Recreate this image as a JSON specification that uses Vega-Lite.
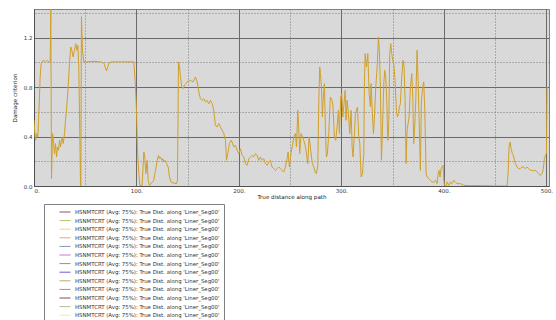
{
  "$schema": "https://vega.github.io/schema/vega-lite/v6.json",
  "width": 515,
  "height": 177,
  "autosize": "none",
  "padding": {"left": 34, "top": 9, "right": 7, "bottom": 134},
  "background": "#ffffff",
  "config": {
    "font": "DejaVu Sans",
    "view": {"fill": "#d9d9d9", "stroke": "#808080", "strokeWidth": 1},
    "axis": {
      "labelFontSize": 5.5,
      "labelColor": "#333333",
      "titleFontSize": 5.6,
      "titleFontWeight": "normal",
      "titleColor": "#222222",
      "ticks": false,
      "domainColor": "#505050",
      "gridOpacity": 1,
      "gridWidth": 1
    }
  },
  "resolve": {"axis": {"y": "independent"}},
  "datasets": {
    "curve": [
      {"x":0,"y":0.531},{"x":0.8,"y":0.424},{"x":1.5,"y":0.370},{"x":2.4,"y":0.424},{"x":3.7,"y":0.397},{"x":5.0,"y":0.639},{"x":6.0,"y":0.882},{"x":7.0,"y":0.990},{"x":9.0,"y":1.017},{"x":11.2,"y":1.004},{"x":12.9,"y":1.017},{"x":14.5,"y":1.004},{"x":15.8,"y":1.004},{"x":16.4,"y":1.43},{"x":17.1,"y":0.060},{"x":18.1,"y":0.424},{"x":19.0,"y":0.370},{"x":20.0,"y":0.262},{"x":21.0,"y":0.343},{"x":22.0,"y":0.235},{"x":22.9,"y":0.316},{"x":23.9,"y":0.289},{"x":24.9,"y":0.370},{"x":25.9,"y":0.316},{"x":27.2,"y":0.397},{"x":28.5,"y":0.343},{"x":29.8,"y":0.424},{"x":30.7,"y":0.531},{"x":32.0,"y":0.639},{"x":33.3,"y":0.801},{"x":34.6,"y":0.990},{"x":35.9,"y":1.125},{"x":36.9,"y":1.098},{"x":38.2,"y":1.044},{"x":39.5,"y":1.098},{"x":40.8,"y":1.152},{"x":41.8,"y":1.098},{"x":42.8,"y":1.138},{"x":43.7,"y":0.963},{"x":44.7,"y":0.424},{"x":45.4,"y":0.0},{"x":45.7,"y":0.0},{"x":46.3,"y":1.37},{"x":47.3,"y":1.098},{"x":48.6,"y":1.004},{"x":51.9,"y":1.004},{"x":58.4,"y":1.009},{"x":64.9,"y":1.004},{"x":68.1,"y":0.995},{"x":69.4,"y":0.963},{"x":70.7,"y":0.931},{"x":72.0,"y":0.963},{"x":73.3,"y":0.995},{"x":75.3,"y":1.004},{"x":81.1,"y":1.004},{"x":90.9,"y":1.004},{"x":97.4,"y":1.004},{"x":98.7,"y":0.855},{"x":100.0,"y":0.612},{"x":101.0,"y":0.289},{"x":102.3,"y":0.100},{"x":103.3,"y":0.005},{"x":105.5,"y":0.005},{"x":107.2,"y":0.275},{"x":108.1,"y":0.235},{"x":109.1,"y":0.100},{"x":110.4,"y":0.208},{"x":111.4,"y":0.046},{"x":112.7,"y":0.005},{"x":114.6,"y":0.024},{"x":116.9,"y":0.046},{"x":117.9,"y":0.100},{"x":119.2,"y":0.154},{"x":120.2,"y":0.208},{"x":121.5,"y":0.248},{"x":122.4,"y":0.221},{"x":123.4,"y":0.235},{"x":124.7,"y":0.208},{"x":125.7,"y":0.221},{"x":126.7,"y":0.194},{"x":128.0,"y":0.208},{"x":129.3,"y":0.181},{"x":130.9,"y":0.154},{"x":132.2,"y":0.073},{"x":133.8,"y":0.032},{"x":136.4,"y":0.024},{"x":139.0,"y":0.019},{"x":140.0,"y":0.046},{"x":141.0,"y":1.004},{"x":142.0,"y":0.963},{"x":142.9,"y":0.882},{"x":144.2,"y":0.801},{"x":145.5,"y":0.788},{"x":146.8,"y":0.815},{"x":148.1,"y":0.828},{"x":149.4,"y":0.842},{"x":152.7,"y":0.855},{"x":155.3,"y":0.842},{"x":157.5,"y":0.882},{"x":159.2,"y":0.842},{"x":160.8,"y":0.761},{"x":162.4,"y":0.707},{"x":164.0,"y":0.693},{"x":165.7,"y":0.707},{"x":167.3,"y":0.680},{"x":168.9,"y":0.693},{"x":170.5,"y":0.666},{"x":172.2,"y":0.693},{"x":173.8,"y":0.666},{"x":175.4,"y":0.612},{"x":177.0,"y":0.491},{"x":178.7,"y":0.478},{"x":180.3,"y":0.505},{"x":181.9,"y":0.478},{"x":183.6,"y":0.451},{"x":185.2,"y":0.424},{"x":186.8,"y":0.370},{"x":187.8,"y":0.208},{"x":189.1,"y":0.262},{"x":190.7,"y":0.343},{"x":192.3,"y":0.370},{"x":193.3,"y":0.356},{"x":194.9,"y":0.316},{"x":196.6,"y":0.329},{"x":198.2,"y":0.289},{"x":199.8,"y":0.262},{"x":201.4,"y":0.302},{"x":203.1,"y":0.248},{"x":204.7,"y":0.235},{"x":206.3,"y":0.181},{"x":207.9,"y":0.167},{"x":209.6,"y":0.221},{"x":211.2,"y":0.235},{"x":212.8,"y":0.248},{"x":214.4,"y":0.235},{"x":216.1,"y":0.262},{"x":217.7,"y":0.248},{"x":219.3,"y":0.208},{"x":221.0,"y":0.235},{"x":222.6,"y":0.208},{"x":224.2,"y":0.221},{"x":225.8,"y":0.181},{"x":227.5,"y":0.167},{"x":229.1,"y":0.194},{"x":230.7,"y":0.208},{"x":232.3,"y":0.154},{"x":234.0,"y":0.140},{"x":235.6,"y":0.127},{"x":237.2,"y":0.140},{"x":238.8,"y":0.154},{"x":240.5,"y":0.140},{"x":242.1,"y":0.127},{"x":243.7,"y":0.113},{"x":245.3,"y":0.154},{"x":247.0,"y":0.221},{"x":247.9,"y":0.275},{"x":249.2,"y":0.154},{"x":250.9,"y":0.275},{"x":252.2,"y":0.329},{"x":253.5,"y":0.397},{"x":255.1,"y":0.424},{"x":256.1,"y":0.316},{"x":257.4,"y":0.612},{"x":258.3,"y":0.478},{"x":259.3,"y":0.262},{"x":260.6,"y":0.424},{"x":261.9,"y":0.397},{"x":263.2,"y":0.370},{"x":264.9,"y":0.316},{"x":265.8,"y":0.262},{"x":267.1,"y":0.181},{"x":268.4,"y":0.397},{"x":269.7,"y":0.316},{"x":270.7,"y":0.235},{"x":271.7,"y":0.181},{"x":273.0,"y":0.154},{"x":274.3,"y":0.113},{"x":275.6,"y":0.100},{"x":276.9,"y":0.167},{"x":277.9,"y":0.693},{"x":278.8,"y":0.963},{"x":279.5,"y":0.909},{"x":280.5,"y":0.801},{"x":281.4,"y":0.558},{"x":282.1,"y":0.693},{"x":283.4,"y":0.828},{"x":284.4,"y":0.424},{"x":285.3,"y":0.235},{"x":286.3,"y":0.262},{"x":287.6,"y":0.424},{"x":289.2,"y":0.720},{"x":290.9,"y":0.693},{"x":291.8,"y":0.639},{"x":293.1,"y":0.397},{"x":294.4,"y":0.370},{"x":295.7,"y":0.478},{"x":297.0,"y":0.612},{"x":298.0,"y":0.424},{"x":299.3,"y":0.720},{"x":300.3,"y":0.747},{"x":301.3,"y":0.558},{"x":302.2,"y":0.639},{"x":303.6,"y":0.774},{"x":304.5,"y":0.531},{"x":305.5,"y":0.693},{"x":306.8,"y":0.585},{"x":308.1,"y":0.424},{"x":309.4,"y":0.612},{"x":310.4,"y":0.316},{"x":311.3,"y":0.235},{"x":312.7,"y":0.424},{"x":313.6,"y":0.585},{"x":314.6,"y":0.612},{"x":315.6,"y":0.639},{"x":316.9,"y":0.397},{"x":317.9,"y":0.343},{"x":319.2,"y":0.073},{"x":320.5,"y":0.100},{"x":321.8,"y":0.262},{"x":322.4,"y":0.828},{"x":323.1,"y":1.071},{"x":324.4,"y":0.963},{"x":325.7,"y":1.071},{"x":327.0,"y":0.747},{"x":328.3,"y":0.639},{"x":328.9,"y":0.828},{"x":330.2,"y":0.585},{"x":331.2,"y":0.424},{"x":332.2,"y":0.558},{"x":333.5,"y":0.801},{"x":334.8,"y":0.963},{"x":336.1,"y":1.206},{"x":337.0,"y":1.098},{"x":338.0,"y":0.801},{"x":339.0,"y":0.208},{"x":340.0,"y":0.451},{"x":341.3,"y":0.828},{"x":342.2,"y":0.936},{"x":343.2,"y":0.882},{"x":344.2,"y":0.693},{"x":345.2,"y":0.370},{"x":346.1,"y":0.478},{"x":347.1,"y":1.071},{"x":348.1,"y":1.152},{"x":349.1,"y":1.071},{"x":350.0,"y":1.017},{"x":351.0,"y":0.990},{"x":352.3,"y":0.855},{"x":353.6,"y":0.612},{"x":354.6,"y":0.558},{"x":355.6,"y":0.585},{"x":356.5,"y":0.639},{"x":357.5,"y":0.666},{"x":358.8,"y":0.882},{"x":360.1,"y":1.017},{"x":361.1,"y":0.963},{"x":362.1,"y":0.693},{"x":363.1,"y":0.181},{"x":364.0,"y":0.451},{"x":365.0,"y":0.505},{"x":366.0,"y":0.558},{"x":367.3,"y":0.801},{"x":368.6,"y":0.909},{"x":369.6,"y":0.720},{"x":370.5,"y":0.343},{"x":371.5,"y":0.478},{"x":372.5,"y":0.693},{"x":373.8,"y":1.098},{"x":374.8,"y":0.855},{"x":376.1,"y":0.424},{"x":377.0,"y":0.127},{"x":378.0,"y":0.693},{"x":379.3,"y":0.801},{"x":380.3,"y":0.842},{"x":381.3,"y":0.612},{"x":382.6,"y":0.100},{"x":383.5,"y":0.073},{"x":385.2,"y":0.060},{"x":386.8,"y":0.046},{"x":388.4,"y":0.032},{"x":390.0,"y":0.032},{"x":391.7,"y":0.046},{"x":393.3,"y":0.019},{"x":394.3,"y":0.100},{"x":395.2,"y":0.127},{"x":396.2,"y":0.073},{"x":397.2,"y":0.140},{"x":398.2,"y":0.154},{"x":399.2,"y":0.167},{"x":399.8,"y":0.046},{"x":400.5,"y":0.005},{"x":401.8,"y":0.0},{"x":403.1,"y":0.032},{"x":404.7,"y":0.005},{"x":406.3,"y":0.032},{"x":407.9,"y":0.019},{"x":409.6,"y":0.046},{"x":411.2,"y":0.032},{"x":412.8,"y":0.019},{"x":416.1,"y":0.019},{"x":419.3,"y":0.005},{"x":425.8,"y":0.003},{"x":435.6,"y":0.003},{"x":448.6,"y":0.0},{"x":461.6,"y":0.0},{"x":462.6,"y":0.100},{"x":463.5,"y":0.316},{"x":464.5,"y":0.356},{"x":465.5,"y":0.302},{"x":466.8,"y":0.262},{"x":468.1,"y":0.235},{"x":469.7,"y":0.181},{"x":471.3,"y":0.154},{"x":473.0,"y":0.140},{"x":474.6,"y":0.140},{"x":476.2,"y":0.154},{"x":477.8,"y":0.154},{"x":479.5,"y":0.140},{"x":481.1,"y":0.154},{"x":482.7,"y":0.140},{"x":484.4,"y":0.127},{"x":486.0,"y":0.127},{"x":487.6,"y":0.122},{"x":489.2,"y":0.127},{"x":490.9,"y":0.113},{"x":492.5,"y":0.100},{"x":494.1,"y":0.086},{"x":495.7,"y":0.100},{"x":497.0,"y":0.140},{"x":498.0,"y":0.221},{"x":499.0,"y":0.248},{"x":500.0,"y":0.262},{"x":500.6,"y":0.801}
    ],
    "legendItems": [
      {"series": "s01"},{"series": "s02"},{"series": "s03"},{"series": "s04"},{"series": "s05"},{"series": "s06"},{"series": "s07"},{"series": "s08"},{"series": "s09"},{"series": "s10"},{"series": "s11"},{"series": "s12"},{"series": "s13"}
    ]
  },
  "layer": [
    {
      "data": {"name": "legendItems"},
      "mark": {"type": "line", "strokeWidth": 1},
      "encoding": {
        "x": {"datum": 0, "type": "quantitative"},
        "y": {
          "datum": 0, "type": "quantitative",
          "axis": {
            "orient": "right",
            "values": [0.2, 0.6, 1.0, 1.4],
            "labels": false,
            "domain": false,
            "ticks": false,
            "title": null,
            "grid": true,
            "gridColor": "#787878",
            "gridDash": [1, 2]
          }
        },
        "color": {
          "field": "series", "type": "nominal",
          "scale": {
            "domain": ["s01","s02","s03","s04","s05","s06","s07","s08","s09","s10","s11","s12","s13"],
            "range": ["#9c4a68","#b9c06a","#eedd55","#eea08e","#8595b5","#c275e0","#66b066","#7658d6","#c4a576","#e066c2","#8e4460","#b3c295","#f6eca0"]
          },
          "legend": {
            "title": null,
            "orient": "none",
            "legendX": 10,
            "legendY": 195,
            "symbolType": "stroke",
            "symbolSize": 121,
            "symbolStrokeWidth": 1,
            "symbolOffset": 11,
            "clipHeight": 8,
            "rowPadding": 0.6,
            "labelOffset": 4,
            "labelFontSize": 5.4,
            "labelColor": "#333333",
            "labelLimit": 300,
            "labelExpr": "\"HSNMTCRT (Avg: 75%): True Dist. along 'Liner_Seg00'\"",
            "padding": 4,
            "fillColor": "#ffffff",
            "strokeColor": "#808080"
          }
        }
      }
    },
    {
      "data": {"name": "curve"},
      "mark": {"type": "line", "color": "#d0a02a", "strokeWidth": 1, "clip": true},
      "encoding": {
        "x": {
          "field": "x", "type": "quantitative",
          "scale": {"domain": [0, 502.5], "nice": false, "zero": false},
          "axis": {
            "values": [0, 50, 100, 150, 200, 250, 300, 350, 400, 450, 500],
            "labelExpr": "datum.value % 100 === 0 ? datum.value + '.' : ''",
            "title": "True distance along path",
            "labelPadding": 2,
            "titlePadding": 1,
            "grid": true,
            "gridColor": {"condition": {"test": "datum.value % 100 === 0", "value": "#6a6a6a"}, "value": "#787878"},
            "gridDash": {"condition": {"test": "datum.value % 100 === 0", "value": []}, "value": [1, 2]}
          }
        },
        "y": {
          "field": "y", "type": "quantitative",
          "scale": {"domain": [0, 1.432], "nice": false},
          "axis": {
            "orient": "left",
            "values": [0, 0.4, 0.8, 1.2],
            "format": ".1f",
            "title": "Damage criterion",
            "labelPadding": 2,
            "titlePadding": 6,
            "grid": true,
            "gridColor": "#6a6a6a"
          }
        }
      }
    }
  ]
}
